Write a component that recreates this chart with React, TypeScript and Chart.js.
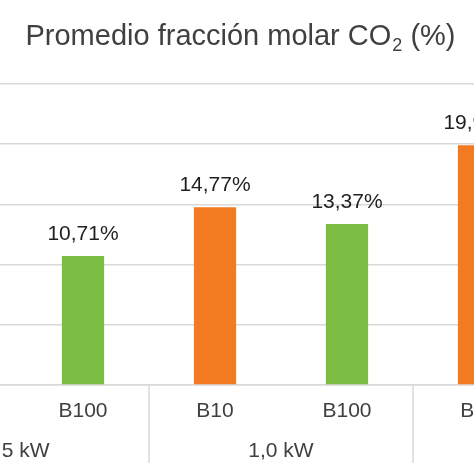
import React, { useEffect, useRef } from "react";
import { Chart, registerables, Plugin } from "chart.js";

Chart.register(...registerables);

// datos
const fuels = ["B10", "B100", "B10", "B100", "B10", "B100"];
const groups = ["0,5 kW", "1,0 kW", "1,5 kW"];
const co2Values = [12.4, 10.71, 14.77, 13.37, 19.92, 17.6];
const yTicks = [0, 5, 10, 15, 20, 25];

const ORANGE = "#F27A21";
const GREEN = "#7BBE43";
const GRID = "#D9D9D9";
const FONT = '"Liberation Sans", Arial, sans-serif';

const fmt = (v: number) => v.toFixed(2).replace(".", ",") + "%";

// título con subíndice
const titlePlugin: Plugin<"bar"> = {
  id: "subTitle",
  afterDraw(chart) {
    const ctx = chart.ctx;
    const main = "Promedio fracción molar CO";
    const sub = "2";
    const tail = " (%)";
    ctx.save();
    ctx.fillStyle = "#404040";
    ctx.textBaseline = "alphabetic";
    ctx.textAlign = "left";
    ctx.font = `29px ${FONT}`;
    const w1 = ctx.measureText(main).width;
    const w3 = ctx.measureText(tail).width;
    ctx.font = `18px ${FONT}`;
    const w2 = ctx.measureText(sub).width;
    const x0 = chart.width / 2 - (w1 + w2 + w3) / 2;
    const base = chart.chartArea.top - 39;
    ctx.font = `29px ${FONT}`;
    ctx.fillText(main, x0, base);
    ctx.font = `18px ${FONT}`;
    ctx.fillText(sub, x0 + w1 + 1, base + 6);
    ctx.font = `29px ${FONT}`;
    ctx.fillText(tail, x0 + w1 + w2 + 1, base);
    ctx.restore();
  },
};

// etiquetas de datos sobre las barras
const valueLabels: Plugin<"bar"> = {
  id: "valueLabels",
  afterDatasetsDraw(chart) {
    const ctx = chart.ctx;
    const meta = chart.getDatasetMeta(0);
    ctx.save();
    ctx.font = `21px ${FONT}`;
    ctx.fillStyle = "#1F1F1F";
    ctx.textAlign = "center";
    ctx.textBaseline = "alphabetic";
    meta.data.forEach((bar, i) => {
      ctx.fillText(fmt(co2Values[i]), bar.x, bar.y - 16);
    });
    ctx.restore();
  },
};

// segundo nivel del eje x (potencia) con separadores
const groupAxis: Plugin<"bar"> = {
  id: "groupAxis",
  afterDraw(chart) {
    const x = chart.scales.x;
    const ctx = chart.ctx;
    const per = fuels.length / groups.length;
    const half = (x.getPixelForValue(1) - x.getPixelForValue(0)) / 2;
    ctx.save();
    ctx.strokeStyle = GRID;
    ctx.lineWidth = 1.5;
    for (let g = 0; g <= groups.length; g++) {
      const px = x.getPixelForValue(g * per) - half;
      ctx.beginPath();
      ctx.moveTo(px, x.top);
      ctx.lineTo(px, x.top + 78);
      ctx.stroke();
    }
    ctx.font = `21px ${FONT}`;
    ctx.fillStyle = "#404040";
    ctx.textAlign = "center";
    ctx.textBaseline = "alphabetic";
    groups.forEach((label, g) => {
      const a = x.getPixelForValue(g * per);
      const b = x.getPixelForValue(g * per + per - 1);
      ctx.fillText(label, (a + b) / 2, x.top + 72);
    });
    ctx.restore();
  },
};

const App: React.FC = () => {
  const canvasRef = useRef<HTMLCanvasElement>(null);
  const chartRef = useRef<Chart | null>(null);

  useEffect(() => {
    if (!canvasRef.current) return;
    chartRef.current = new Chart(canvasRef.current, {
      type: "bar",
      data: {
        labels: fuels,
        datasets: [
          {
            data: co2Values,
            backgroundColor: fuels.map((f) => (f === "B10" ? ORANGE : GREEN)),
            barPercentage: 0.32,
            categoryPercentage: 1,
          },
        ],
      },
      options: {
        responsive: true,
        maintainAspectRatio: false,
        animation: false,
        layout: { padding: { top: 84, right: 10 } },
        plugins: {
          legend: { display: false },
          title: { display: false },
          tooltip: { enabled: false },
        },
        scales: {
          x: {
            grid: { display: false, drawTicks: false },
            border: { color: GRID, width: 1.5 },
            ticks: {
              color: "#404040",
              font: { family: FONT, size: 21, lineHeight: 1.2 },
              padding: 14,
              maxRotation: 0,
            },
            afterFit: (scale) => {
              scale.height = 89;
            },
          },
          y: {
            min: 0,
            max: yTicks[yTicks.length - 1],
            afterBuildTicks: (scale) => {
              scale.ticks = yTicks.map((v) => ({ value: v }));
            },
            grid: { color: GRID, lineWidth: 1.5, drawTicks: false },
            border: { display: false },
            ticks: { display: false },
            afterFit: (scale) => {
              scale.width = 92;
            },
          },
        },
      },
      plugins: [titlePlugin, valueLabels, groupAxis],
    });
    return () => {
      chartRef.current?.destroy();
      chartRef.current = null;
    };
  }, []);

  return (
    <div
      style={{
        position: "fixed",
        left: 0,
        top: 0,
        width: 474,
        height: 474,
        overflow: "hidden",
        background: "#fff",
      }}
    >
      <div style={{ position: "absolute", left: -207, top: 0, width: 894, height: 474 }}>
        <canvas ref={canvasRef}></canvas>
      </div>
    </div>
  );
};

export default App;
